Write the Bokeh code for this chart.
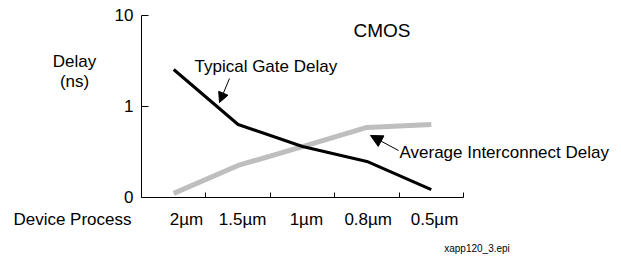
from bokeh.plotting import figure
from bokeh.models import Range1d, FixedTicker, Label, Arrow, NormalHead
from bokeh.embed import file_html
from bokeh.resources import INLINE

# ---- data ----
processes = ["2\u00b5m", "1.5\u00b5m", "1\u00b5m", "0.8\u00b5m", "0.5\u00b5m"]
gate_delay = [2.55, 0.634, 0.363, 0.249, 0.122]          # ns
interconnect_delay = [0.111, 0.225, 0.363, 0.588, 0.634]  # ns
y_ticks = [0.1, 1, 10]
y_tick_labels = ["0", "1", "10"]

x_pos = [i + 0.5 for i in range(len(processes))]
label_pos = [0.70, 1.57, 2.56, 3.52, 4.55]
boundaries = [1, 2, 3, 4, 5]

FONT = "Liberation Sans"

# frame covers the whole canvas; axes are drawn at fixed locations with bounds
p = figure(width=621, height=257, output_backend="svg", toolbar_location=None,
           x_range=Range1d(-2.1894, 7.4534), y_range=Range1d(0.02191, 14.61),
           y_axis_type="log",
           min_border_left=0, min_border_right=0, min_border_top=0,
           min_border_bottom=0)
p.outline_line_color = None
p.xgrid.visible = False
p.ygrid.visible = False
p.background_fill_color = "white"
p.border_fill_color = "white"

# x axis
p.xaxis.fixed_location = 0.1
p.xaxis.bounds = (0, 5)
p.xaxis.ticker = FixedTicker(ticks=label_pos, minor_ticks=boundaries)
p.xaxis.major_label_overrides = {lp: lab for lp, lab in zip(label_pos, processes)}
p.xaxis.major_tick_in = 0
p.xaxis.major_tick_out = 0
p.xaxis.minor_tick_in = 5
p.xaxis.minor_tick_out = 0
p.xaxis.minor_tick_line_color = "black"
p.xaxis.axis_line_color = "black"
p.xaxis.major_label_standoff = 13
p.xaxis.major_label_text_font = FONT
p.xaxis.major_label_text_font_size = "17px"
p.xaxis.major_label_text_color = "black"

# y axis
p.yaxis.fixed_location = 0
p.yaxis.bounds = (0.1, 10)
p.yaxis.ticker = FixedTicker(ticks=y_ticks, minor_ticks=[])
p.yaxis.major_label_overrides = {t: lab for t, lab in zip(y_ticks, y_tick_labels)}
p.yaxis.major_tick_in = 7
p.yaxis.major_tick_out = 0
p.yaxis.major_tick_line_color = "black"
p.yaxis.minor_tick_line_color = None
p.yaxis.axis_line_color = "black"
p.yaxis.major_label_standoff = 8
p.yaxis.major_label_text_font = FONT
p.yaxis.major_label_text_font_size = "17px"
p.yaxis.major_label_text_color = "black"

# lines
p.line(x_pos, interconnect_delay, line_color="#bebebe", line_width=5)
p.line(x_pos, gate_delay, line_color="black", line_width=3)

def lab(x, y, text, size=17, align="left"):
    p.add_layout(Label(x=x, y=y, text=text, text_font=FONT,
                       text_font_size=f"{size}px", y_offset=round(0.34 * size),
                       text_color="black", text_align=align,
                       text_baseline="alphabetic"))

lab(3.292, 5.92, "CMOS", size=19)
lab(0.823, 2.393, "Typical Gate Delay")
lab(4.006, 0.266, "Average Interconnect Delay")
lab(-1.04, 2.70, "Delay", align="center")
lab(-1.04, 1.618, "(ns)", align="center")
lab(-0.155, 0.0492, "Device Process", align="right")
lab(5.21, 0.02552, "xapp120_3.epi", size=10, align="center")

p.add_layout(Arrow(x_start=1.366, y_start=2.03, x_end=1.211, y_end=1.106,
                   line_color="black", line_width=1,
                   end=NormalHead(size=10, fill_color="black", line_color="black")))
p.add_layout(Arrow(x_start=3.991, y_start=0.3285, x_end=3.556, y_end=0.480,
                   line_color="black", line_width=1,
                   end=NormalHead(size=12, fill_color="black", line_color="black")))

open("out.html", "w").write(file_html(p, INLINE))
